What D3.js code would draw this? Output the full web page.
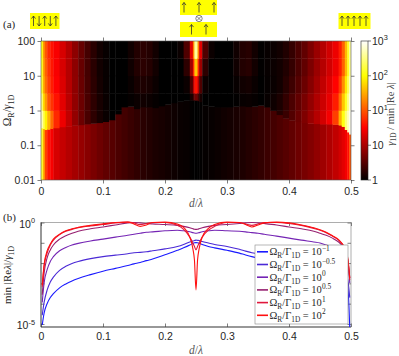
<!DOCTYPE html>
<html>
<head>
<meta charset="utf-8">
<script src="https://cdn.jsdelivr.net/npm/d3@7"></script>
<style>
  body { margin: 0; background: #fff; }
  svg { display: block; }
</style>
</head>
<body>
<div id="chart"></div>
<script>
const width = 399;
const height = 356;

// ---- panel (a) heatmap data: columns in d/λ, values are log10(γ1D / min|Re λ|)
const dEdges = [0, 0.003, 0.006, 0.01, 0.015, 0.02, 0.03, 0.04, 0.05, 0.06, 0.07, 0.08, 0.09,
  0.1, 0.11, 0.12, 0.13, 0.14, 0.15, 0.16, 0.17, 0.18, 0.19, 0.2, 0.21, 0.22, 0.23, 0.24,
  0.245, 0.2475, 0.2525, 0.255, 0.26, 0.27, 0.28, 0.29, 0.3, 0.31, 0.32, 0.33, 0.34, 0.35,
  0.36, 0.37, 0.38, 0.39, 0.4, 0.41, 0.42, 0.43, 0.44, 0.45, 0.46, 0.47, 0.48, 0.485, 0.49,
  0.494, 0.497, 0.5];

// log10(ΩR/γ1D) of the sharp boundary in each column
const boundaryExp = [-0.5, -0.52, -0.55, -0.54, -0.52, -0.5, -0.47, -0.45, -0.43, -0.41,
  -0.39, -0.37, -0.35, -0.32, -0.27, -0.1, 0.1, 0.12, 0.05, 0.1, 0.1, 0.08, 0.13, 0.18,
  0.22, 0.26, 0.29, 0.3, 0.3, 0.3, 0.28,
  0.25, 0.15, 0.12, 0.1, 0.1, 0.1, 0.12, 0.13, 0.11, 0.12, 0.15, 0.1, 0, -0.12, -0.22,
  -0.28, -0.32, -0.35, -0.37, -0.38, -0.39, -0.39, -0.4, -0.42, -0.46, -0.55, -0.62, -0.68];

// below the boundary
const lowerExp = [2.4, 1.9, 1.4, 1.2, 1.1, 0.95, 0.87, 0.8, 0.73, 0.66, 0.6, 0.54, 0.48,
  0.43, 0.38, 0.33, 0.29, 0.25, 0.21, 0.18, 0.15, 0.12, 0.1, 0.08, 0.06, 0.04, 0.03, 0.01,
  0, 0, 0,
  0.01, 0.02, 0.03, 0.05, 0.07, 0.09, 0.11, 0.13, 0.16, 0.19, 0.22, 0.26, 0.3, 0.34, 0.38,
  0.43, 0.48, 0.53, 0.58, 0.64, 0.7, 0.77, 0.85, 0.93, 1.0, 1.08, 1.2, 1.5];

// above the boundary, in bands of ΩR/γ1D
const bandAExp = [2.8, 2.5, 2.2, 1.9, 1.6, 1.3, 1.05, 0.85, 0.65, 0.47, 0.32, 0.2, 0.1, 0.04, 0,
  0, 0, 0, 0, 0, 0, 0, 0, 0,
  0, 0, 0, 0, 0, 0, 0, 0, 0,
  0, 0, 0, 0, 0, 0, 0, 0, 0,
  0.06, 0.1, 0.16, 0.25, 0.36, 0.46, 0.56, 0.68, 0.8, 0.93, 1.08, 1.4, 1.9, 2.3, 2.6, 2.8, 2.95];
const bandBExp = [2.6, 2.1, 1.8, 1.5, 1.35, 1.2, 1.0, 0.82, 0.64, 0.47, 0.32, 0.2, 0.1, 0.04,
  0, 0, 0, 0.02, 0.05, 0.07, 0.05, 0.02, 0, 0, 0, 0, 0,
  0.1, 0.3, 0.5, 0.3, 0.1,
  0, 0, 0, 0, 0,
  0.01, 0.03, 0.04, 0.02, 0, 0.03, 0.06, 0.12, 0.22, 0.33, 0.43, 0.53, 0.65, 0.77, 0.9,
  1.03, 1.25, 1.6, 2.0, 2.35, 2.65, 2.9];
const bandCExp = [2.4, 1.9, 1.6, 1.4, 1.25, 1.12, 0.97, 0.8, 0.63, 0.46, 0.31, 0.19, 0.09, 0.03,
  0, 0, 0, 0.04, 0.1, 0.13, 0.1, 0.05, 0, 0, 0, 0,
  0.05, 0.35, 0.8, 1.2, 0.8, 0.35, 0.05,
  0, 0, 0, 0,
  0.03, 0.07, 0.09, 0.04, 0, 0.02, 0.04, 0.08, 0.17, 0.27, 0.37, 0.47, 0.59, 0.72, 0.85,
  0.98, 1.13, 1.38, 1.75, 2.15, 2.5, 2.8];
const bandDExp = [2.35, 1.85, 1.55, 1.35, 1.22, 1.1, 0.95, 0.8, 0.62, 0.45, 0.3, 0.18, 0.08, 0.03,
  0, 0, 0, 0.07, 0.15, 0.19, 0.16, 0.08, 0, 0, 0,
  0, 0.2, 0.7, 1.3, 2.0, 1.3, 0.7, 0.2, 0,
  0, 0, 0,
  0.07, 0.15, 0.17, 0.08, 0.01, 0.03, 0.05, 0.08, 0.14, 0.23, 0.33, 0.43, 0.55, 0.68, 0.8,
  0.92, 1.05, 1.25, 1.55, 1.95, 2.35, 2.7];
const bandEExp = [2.3, 1.8, 1.5, 1.3, 1.2, 1.1, 0.95, 0.8, 0.62, 0.45, 0.3, 0.18, 0.08, 0.03,
  0, 0, 0, 0.07, 0.15, 0.19, 0.16, 0.08, 0, 0, 0,
  0.05, 0.35, 1.0, 1.7, 2.7, 1.7, 1.0, 0.35, 0.05,
  0, 0, 0,
  0.07, 0.15, 0.17, 0.08, 0.01, 0.03, 0.05, 0.08, 0.14, 0.23, 0.33, 0.43, 0.55, 0.68, 0.8,
  0.92, 1.05, 1.25, 1.55, 1.95, 2.35, 2.7];
const bandLimits = [[-Infinity, 0], [0, 0.5], [0.5, 1], [1, 1.5], [1.5, 2]];

// ---- panel (b): log10(min|Re λ|/γ1D) against d/λ
const dLine = [0.002, 0.005, 0.01, 0.015, 0.02, 0.03, 0.04, 0.05, 0.06, 0.08, 0.1, 0.12,
  0.14, 0.15, 0.16, 0.17, 0.18, 0.2, 0.22, 0.23, 0.24, 0.245, 0.2475, 0.25, 0.2525, 0.255,
  0.26, 0.27, 0.28, 0.3, 0.32, 0.33, 0.34, 0.35, 0.36, 0.38, 0.4, 0.42, 0.44, 0.45, 0.46,
  0.47, 0.48, 0.485, 0.49, 0.495, 0.498];
const omegaM1 = [-5.05, -4.47, -3.99, -3.7, -3.51, -3.22, -3.03, -2.88, -2.76, -2.57, -2.4,
  -2.26, -2.12, -2.04, -1.97, -1.88, -1.8, -1.59, -1.37, -1.25, -1.11, -1.03, -1.0, -0.99,
  -1.0, -1.02, -1.08, -1.18, -1.25, -1.37, -1.51, -1.6, -1.68, -1.74, -1.78, -1.86, -1.94,
  -2.02, -2.12, -2.16, -2.21, -2.31, -2.45, -2.55, -2.74, -3.22, -5.2];
const omegaM05 = [-4.57, -3.94, -3.32, -2.93, -2.69, -2.36, -2.16, -2.02, -1.92, -1.78, -1.68,
  -1.61, -1.54, -1.49, -1.47, -1.44, -1.39, -1.3, -1.18, -1.08, -0.96, -0.91, -0.89, -0.87,
  -0.88, -0.89, -0.94, -1.01, -1.08, -1.18, -1.32, -1.41, -1.49, -1.54, -1.56, -1.6, -1.63,
  -1.67, -1.71, -1.75, -1.83, -1.92, -2.07, -2.16, -2.36, -2.84, -3.7];
const omega0 = [-3.94, -2.98, -2.31, -1.92, -1.68, -1.39, -1.23, -1.11, -1.03, -0.91, -0.82,
  -0.72, -0.63, -0.58, -0.53, -0.48, -0.46, -0.41, -0.38, -0.41, -0.46, -0.5, -0.52, -0.53,
  -0.52, -0.5, -0.46, -0.41, -0.38, -0.41, -0.43, -0.46, -0.5, -0.53, -0.58, -0.67, -0.77,
  -0.87, -0.96, -1.01, -1.11, -1.2, -1.35, -1.44, -1.63, -2.07, -2.98];
const omega05 = [-3.56, -2.5, -1.73, -1.35, -1.11, -0.82, -0.65, -0.53, -0.43, -0.31, -0.22,
  -0.12, -0.02, 0, -0.02, -0.05, -0.07, -0.1, -0.14, -0.19, -0.26, -0.31, -0.33, -0.34,
  -0.33, -0.31, -0.26, -0.19, -0.14, -0.1, -0.05, -0.02, 0, -0.02, -0.05, -0.12, -0.22,
  -0.31, -0.43, -0.53, -0.63, -0.77, -0.96, -1.11, -1.35, -1.88, -2.74];
const omega1 = [-3.17, -2.16, -1.49, -1.11, -0.87, -0.6, -0.43, -0.34, -0.26, -0.17, -0.1,
  -0.02, 0.02, -0.02, -0.1, -0.05, 0, 0, -0.14, -0.34, -0.72, -1.01, -1.18, -1.35, -1.18,
  -1.01, -0.72, -0.38, -0.19, 0, 0, -0.07, -0.14, -0.07, 0, 0, -0.05, -0.14, -0.29, -0.38,
  -0.5, -0.67, -0.87, -1.03, -1.3, -1.88, -2.84];
const omega2 = [-3.08, -2.07, -1.39, -1.06, -0.82, -0.58, -0.41, -0.31, -0.24, -0.14, -0.07,
  0, 0.02, -0.07, -0.19, -0.12, 0, 0.02, -0.07, -0.24, -0.72, -1.3, -1.85, -3.32, -1.85,
  -1.3, -0.72, -0.29, -0.1, 0.02, 0, -0.1, -0.22, -0.12, -0.02, 0.02, -0.02, -0.12, -0.26,
  -0.36, -0.48, -0.65, -0.84, -1.01, -1.25, -1.78, -2.74];

const seriesValues = [omegaM1, omegaM05, omega0, omega05, omega1, omega2];
const seriesExponents = ["\u22121", "\u22120.5", "0", "0.5", "1", "2"];
const seriesColors = ["#1a1aff", "#4b2ad6", "#7424b4", "#962070", "#e0183c", "#ff1010"];

const xTicks = [0, 0.1, 0.2, 0.3, 0.4, 0.5];
const omegaTicks = [0.01, 0.1, 1, 10, 100];
const colorTicks = [["1", ""], ["10", ""], ["10", "1"], ["10", "2"], ["10", "3"]];

// ---- helpers
const sansFont = "'Liberation Sans', Arial, sans-serif";
const serifFont = "'Liberation Serif', 'DejaVu Serif', serif";
const inkColor = "#262626";

function addRich(textSel, parts, fs) {
  let shift = 0;
  parts.forEach(([str, kind]) => {
    const target = kind === "sub" ? fs * 0.28 : kind === "sup" ? -fs * 0.42 : 0;
    const ts = textSel.append("tspan").attr("dy", target - shift).text(str);
    shift = target;
    if (kind === "sub" || kind === "sup") ts.attr("font-size", fs * 0.7);
    if (kind === "i") ts.attr("font-style", "italic");
  });
  return textSel;
}

const svg = d3.select("#chart").append("svg")
  .attr("width", width)
  .attr("height", height)
  .attr("viewBox", `0 0 ${width} ${height}`);

// ================= panel (a)
const xA = d3.scaleLinear().domain([0, 0.5]).range([41, 351]);
const yA = d3.scaleLog().domain([0.01, 100]).range([180, 41]);
const heatColor = d3.scaleLinear()
  .domain([0, 1.125, 2.25, 3])
  .range(["#000000", "#ff0000", "#ffff00", "#ffffff"])
  .clamp(true);

const bandArrays = [bandAExp, bandBExp, bandCExp, bandDExp, bandEExp];
const heatCells = [];
for (let i = 0; i < dEdges.length - 1; i++) {
  const b = boundaryExp[i];
  heatCells.push({ d0: dEdges[i], d1: dEdges[i + 1], lo: -2, hi: b, v: lowerExp[i] });
  bandLimits.forEach(([lo, hi], k) => {
    const lo2 = Math.max(lo, b);
    if (hi > lo2) heatCells.push({ d0: dEdges[i], d1: dEdges[i + 1], lo: lo2, hi: hi, v: bandArrays[k][i] });
  });
}

svg.append("clipPath").attr("id", "clipA")
  .append("rect").attr("x", 41).attr("y", 41).attr("width", 310).attr("height", 139);

svg.append("g").attr("clip-path", "url(#clipA)")
  .selectAll("rect")
  .data(heatCells)
  .join("rect")
  .attr("x", (d) => xA(d.d0))
  .attr("y", (d) => yA(10 ** d.hi))
  .attr("width", (d) => xA(d.d1) - xA(d.d0) + 0.4)
  .attr("height", (d) => yA(10 ** d.lo) - yA(10 ** d.hi) + 0.4)
  .attr("fill", (d) => heatColor(d.v));

function styleAxis(g) {
  g.select(".domain").remove();
  g.selectAll(".tick line").attr("stroke", inkColor).attr("stroke-width", 0.6);
  g.selectAll(".tick text")
    .attr("fill", inkColor)
    .attr("font-family", sansFont)
    .attr("font-size", 10.5);
}

const fmtD = (d) => (d === 0 ? "0" : d.toFixed(1));
svg.append("g").attr("transform", "translate(0,180)")
  .call(d3.axisBottom(xA).tickValues(xTicks).tickFormat(fmtD).tickSize(3.5).tickPadding(4))
  .call(styleAxis);
svg.append("g").attr("transform", "translate(0,41)")
  .call(d3.axisTop(xA).tickValues(xTicks).tickFormat("").tickSize(3.5))
  .call(styleAxis);
svg.append("g").attr("transform", "translate(41,0)")
  .call(d3.axisLeft(yA).tickValues(omegaTicks).tickFormat(d3.format("~g")).tickSize(3.5).tickPadding(2.5))
  .call(styleAxis);
svg.append("g").attr("transform", "translate(351,0)")
  .call(d3.axisRight(yA).tickValues(omegaTicks).tickFormat("").tickSize(3.5))
  .call(styleAxis);
svg.append("rect")
  .attr("x", 41).attr("y", 41).attr("width", 310).attr("height", 139)
  .attr("fill", "none").attr("stroke", "#555").attr("stroke-width", 0.6);

// colorbar: the colour runs over three decades, the five labels sit at even steps
const cScale = d3.scaleLinear().domain([0, 3]).range([180, 41]);
const cTickScale = d3.scaleLinear().domain([0, colorTicks.length - 1]).range([180, 41]);
const grad = svg.append("defs").append("linearGradient")
  .attr("id", "hotGrad").attr("x1", 0).attr("y1", 1).attr("x2", 0).attr("y2", 0);
heatColor.domain().forEach((v) => {
  grad.append("stop").attr("offset", v / 3).attr("stop-color", heatColor(v));
});
svg.append("rect")
  .attr("x", 361).attr("y", cScale(3)).attr("width", 7).attr("height", cScale(0) - cScale(3))
  .attr("fill", "url(#hotGrad)").attr("stroke", inkColor).attr("stroke-width", 0.6);
const cbTicks = svg.append("g");
colorTicks.forEach(([base, sup], i) => {
  const y = cTickScale(i);
  cbTicks.append("line").attr("x1", 368).attr("x2", 371).attr("y1", y).attr("y2", y)
    .attr("stroke", inkColor).attr("stroke-width", 0.6);
  const t = cbTicks.append("text").attr("x", 372).attr("y", y + 3.8)
    .attr("font-family", sansFont).attr("font-size", 10.5).attr("fill", inkColor);
  addRich(t, sup ? [[base, "n"], [sup, "sup"]] : [[base, "n"]], 10.5);
});
addRich(svg.append("text")
  .attr("transform", "translate(393.5,114) rotate(-90)")
  .attr("text-anchor", "middle")
  .attr("font-family", serifFont).attr("font-size", 10.5).attr("fill", "#444"),
  [["\u03b3", "i"], ["1D", "sub"], [" / min |Re ", "n"], ["\u03bb", "i"], ["|", "n"]], 10.5);

// axis labels panel (a)
addRich(svg.append("text")
  .attr("transform", "translate(11,110.5) rotate(-90)")
  .attr("text-anchor", "middle")
  .attr("font-family", serifFont).attr("font-size", 11.5).attr("fill", inkColor),
  [["\u03a9", "n"], ["R", "sub"], ["/", "n"], ["\u03b3", "i"], ["1D", "sub"]], 11.5);
addRich(svg.append("text")
  .attr("x", 196).attr("y", 207)
  .attr("text-anchor", "middle")
  .attr("font-family", serifFont).attr("font-size", 11.5).attr("fill", "#555"),
  [["d", "i"], ["/", "n"], ["\u03bb", "i"]], 11.5);
svg.append("text").attr("x", 3).attr("y", 28)
  .attr("font-family", serifFont).attr("font-size", 11).attr("fill", inkColor).text("(a)");

// spin sketches above panel (a)
const sketch = svg.append("g").attr("stroke", "#333").attr("stroke-width", 0.8).attr("fill", "none");
function spinArrow(x, yMid, up) {
  const tip = up ? yMid - 5 : yMid + 5;
  const tail = up ? yMid + 5 : yMid - 5;
  const s = up ? 1 : -1;
  sketch.append("path")
    .attr("d", `M${x},${tail}V${tip}M${x - 2},${tip + 2.6 * s}L${x},${tip}L${x + 2},${tip + 2.6 * s}`);
}
function yellowBox(x, y, w, h) {
  svg.insert("rect", () => sketch.node())
    .attr("x", x).attr("y", y).attr("width", w).attr("height", h).attr("fill", "#ffff00");
}
yellowBox(30, 13, 29.5, 16);
[true, false, true, false, true].forEach((up, i) => spinArrow(33.5 + i * 5.6, 21, up));
yellowBox(180, 0, 37, 15);
[184, 199, 214].forEach((x) => spinArrow(x, 7.5, true));
yellowBox(180, 22, 37, 15);
[191.5, 206].forEach((x) => spinArrow(x, 29.5, true));
sketch.append("circle").attr("cx", 199).attr("cy", 18.5).attr("r", 3.2).attr("stroke", "#666");
sketch.append("path").attr("d", "M196.8,16.3L201.2,20.7M201.2,16.3L196.8,20.7").attr("stroke", "#666");
yellowBox(338.5, 13, 32, 16);
[0, 1, 2, 3, 4].forEach((i) => spinArrow(342 + i * 6, 21, true));

// ================= panel (b)
const xB = d3.scaleLinear().domain([0, 0.5]).range([41, 351]);
const yB = d3.scaleLinear().domain([-5.15, 0]).range([327, 222.5]);

svg.append("clipPath").attr("id", "clipB")
  .append("rect").attr("x", 41).attr("y", 221).attr("width", 310).attr("height", 106);

const decades = [-5, -4, -3, -2, -1, 0];
svg.append("g").attr("transform", "translate(0,327)")
  .call(d3.axisBottom(xB).tickValues(xTicks).tickFormat(fmtD).tickSize(-3.5).tickPadding(6))
  .call(styleAxis);
svg.append("g").attr("transform", "translate(0,222.5)")
  .call(d3.axisTop(xB).tickValues(xTicks).tickFormat("").tickSize(-3.5))
  .call(styleAxis);
svg.append("g").attr("transform", "translate(41,0)")
  .call(d3.axisLeft(yB).tickValues(decades).tickFormat("").tickSize(-3.5))
  .call(styleAxis);
svg.append("g").attr("transform", "translate(351,0)")
  .call(d3.axisRight(yB).tickValues(decades).tickFormat("").tickSize(-3.5))
  .call(styleAxis);
svg.append("rect")
  .attr("x", 41).attr("y", 222.5).attr("width", 310).attr("height", 104.5)
  .attr("fill", "none").attr("stroke", "#777").attr("stroke-width", 0.6);
svg.append("path").attr("d", "M41,222.5V327H351")
  .attr("stroke", inkColor).attr("stroke-width", 0.7).attr("fill", "none");

[[0, "0"], [-5, "-5"]].forEach(([v, lab]) => {
  addRich(svg.append("text")
    .attr("x", 35).attr("y", yB(v) + 5)
    .attr("text-anchor", "end")
    .attr("font-family", sansFont).attr("font-size", 10.5).attr("fill", inkColor),
    [["10", "n"], [lab, "sup"]], 10.5);
});

const lineGen = d3.line()
  .x((d) => xB(d[0]))
  .y((d) => yB(d[1]))
  .curve(d3.curveMonotoneX);

svg.append("g").attr("clip-path", "url(#clipB)")
  .selectAll("path")
  .data(seriesValues)
  .join("path")
  .attr("d", (vals) => lineGen(dLine.map((d, i) => [d, vals[i]])))
  .attr("fill", "none")
  .attr("stroke", (d, i) => seriesColors[i])
  .attr("stroke-width", 1.1);

// legend
const legend = svg.append("g").attr("transform", "translate(255,245)");
legend.append("rect").attr("width", 93).attr("height", 79)
  .attr("fill", "#fff").attr("stroke", "#888").attr("stroke-width", 0.6);
seriesExponents.forEach((ex, i) => {
  const y = 6.8 + i * 12.7;
  legend.append("line").attr("x1", 2).attr("x2", 13).attr("y1", y).attr("y2", y)
    .attr("stroke", seriesColors[i]).attr("stroke-width", 1.6);
  addRich(legend.append("text")
    .attr("x", 14.5).attr("y", y + 3.5)
    .attr("font-family", serifFont).attr("font-size", 10.5).attr("fill", inkColor),
    [["\u03a9", "n"], ["R", "sub"], ["/\u0393", "n"], ["1D", "sub"], [" = 10", "n"], [ex, "sup"]], 10.5);
});

addRich(svg.append("text")
  .attr("transform", "translate(11,275) rotate(-90)")
  .attr("text-anchor", "middle")
  .attr("font-family", serifFont).attr("font-size", 11).attr("fill", inkColor),
  [["min |Re", "n"], ["\u03bb", "i"], ["|/", "n"], ["\u03b3", "i"], ["1D", "sub"]], 11);
addRich(svg.append("text")
  .attr("x", 196).attr("y", 354)
  .attr("text-anchor", "middle")
  .attr("font-family", serifFont).attr("font-size", 11.5).attr("fill", "#555"),
  [["d", "i"], ["/", "n"], ["\u03bb", "i"]], 11.5);
svg.append("text").attr("x", 3).attr("y", 221)
  .attr("font-family", serifFont).attr("font-size", 11).attr("fill", inkColor).text("(b)");
</script>
</body>
</html>
